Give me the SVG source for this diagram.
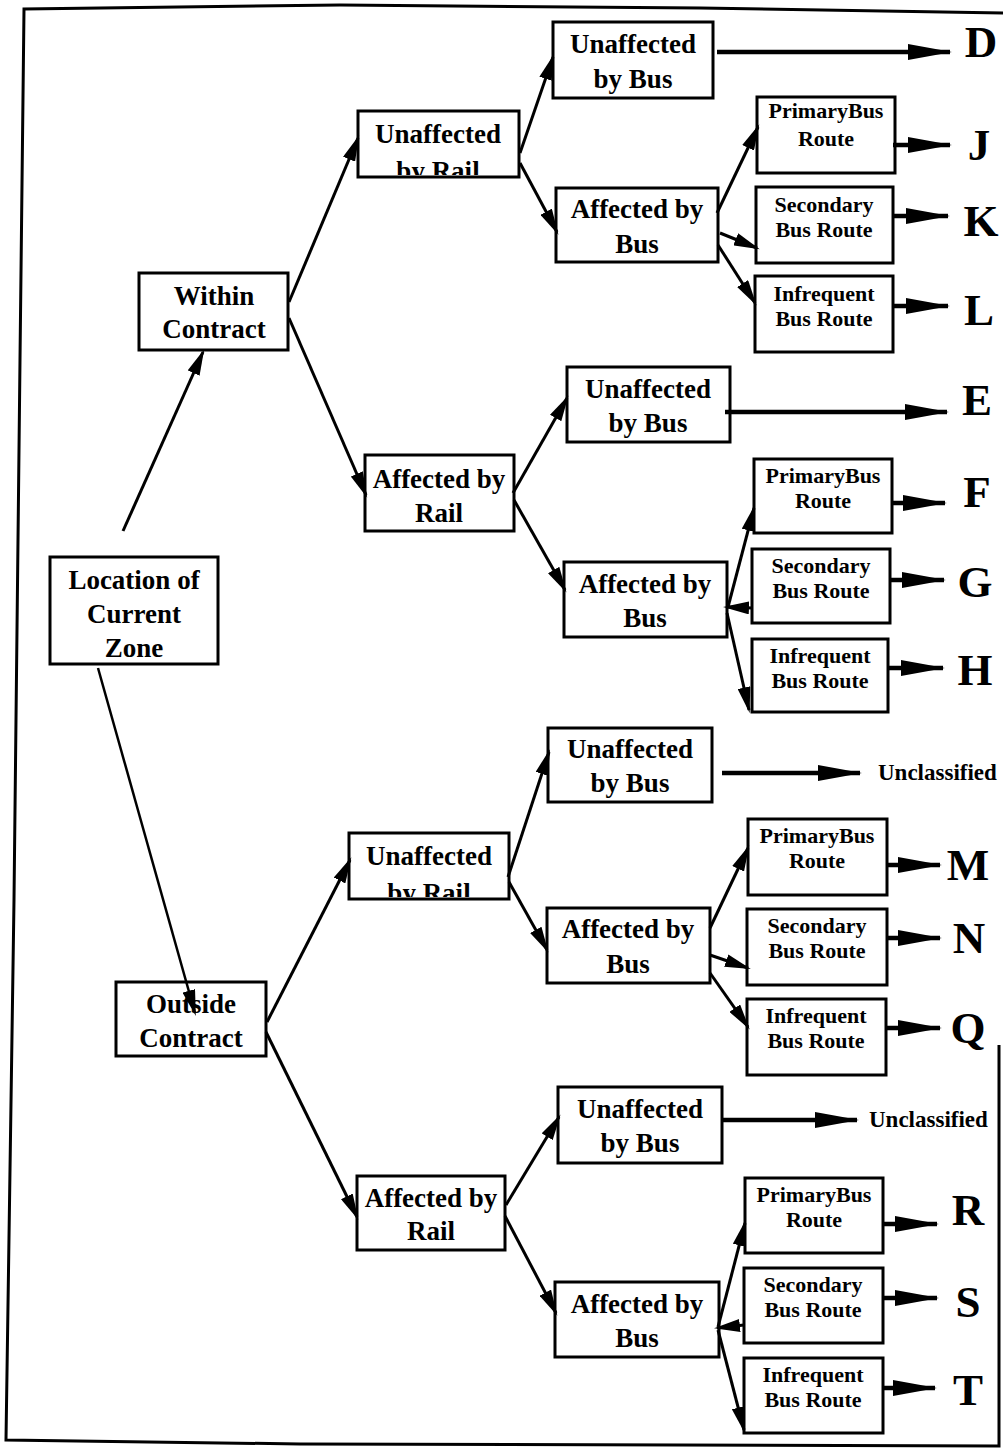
<svg xmlns="http://www.w3.org/2000/svg" width="1003" height="1449" viewBox="0 0 1003 1449">
  <style>
    .box { fill: none; stroke: #000; stroke-width: 3; }
    .t { font-family: "Liberation Serif", "Times New Roman", serif; font-weight: bold; fill: #000; text-anchor: middle; }
    .big { font-size: 27px; }
    .rt { font-size: 22px; }
    .res { font-size: 45px; }
    .unc { font-size: 23px; text-anchor: start; }
    .c { stroke: #000; stroke-width: 3; fill: none; marker-end: url(#tip); }
    .o { stroke: #000; stroke-width: 4.5; fill: none; marker-end: url(#head); }
    .frame { stroke: #000; stroke-width: 3; fill: none; }
  </style>
  <defs>
    <marker id="tip" viewBox="0 0 26 13" refX="23" refY="6.5" markerWidth="26" markerHeight="13" markerUnits="userSpaceOnUse" orient="auto">
      <path d="M0,0 L26,6.5 L0,13 z" fill="#000"/>
    </marker>
    <marker id="head" viewBox="0 0 44 16" refX="42" refY="8" markerWidth="44" markerHeight="16" markerUnits="userSpaceOnUse" orient="auto">
      <path d="M0,0 L44,8 L0,16 z" fill="#000"/>
    </marker>
    <clipPath id="clipUR1"><rect x="358" y="111" width="161" height="64"/></clipPath>
    <clipPath id="clipUR2"><rect x="349" y="833" width="160" height="64"/></clipPath>
  </defs>

  <rect x="0" y="0" width="1003" height="1449" fill="#fff"/>

  <!-- page frame -->
  <polyline class="frame" points="1003,13 700,8 340,5 24,9 20,360 14,900 6,1440 300,1444 999,1446 999,1045"/>

  <!-- connectors -->
  <g id="connectors">
    <line class="c" x1="123" y1="531" x2="203" y2="352"/>
    <line class="c" x1="98" y1="668" x2="195" y2="1013" style="stroke-width:2.5"/>
    <line class="c" x1="289" y1="302" x2="358" y2="138"/>
    <line class="c" x1="289" y1="318" x2="366" y2="495"/>
    <line class="c" x1="520" y1="153" x2="553" y2="57"/>
    <line class="c" x1="520" y1="163" x2="557" y2="232"/>
    <line class="c" x1="717" y1="213" x2="758" y2="127"/>
    <line class="c" x1="720" y1="233" x2="757" y2="248"/>
    <line class="c" x1="718" y1="245" x2="755" y2="303"/>
    <line class="c" x1="513" y1="493" x2="567" y2="398"/>
    <line class="c" x1="514" y1="500" x2="565" y2="590"/>
    <line class="c" x1="728" y1="607" x2="754" y2="508"/>
    <line class="c" x1="752" y1="608" x2="726" y2="607"/>
    <line class="c" x1="727" y1="613" x2="749" y2="710"/>
    <line class="c" x1="267" y1="1022" x2="350" y2="860"/>
    <line class="c" x1="266" y1="1032" x2="357" y2="1217"/>
    <line class="c" x1="508" y1="877" x2="549" y2="752"/>
    <line class="c" x1="509" y1="882" x2="547" y2="950"/>
    <line class="c" x1="710" y1="928" x2="748" y2="848"/>
    <line class="c" x1="710" y1="955" x2="748" y2="968"/>
    <line class="c" x1="710" y1="973" x2="748" y2="1027"/>
    <line class="c" x1="506" y1="1205" x2="559" y2="1117"/>
    <line class="c" x1="505" y1="1216" x2="556" y2="1313"/>
    <line class="c" x1="718" y1="1327" x2="745" y2="1223"/>
    <line class="c" x1="744" y1="1325" x2="717" y2="1328"/>
    <line class="c" x1="718" y1="1330" x2="744" y2="1430"/>

    <!-- outcome arrows -->
    <line class="o" x1="717" y1="52" x2="950" y2="52"/>
    <line class="o" x1="893" y1="145" x2="950" y2="145"/>
    <line class="o" x1="893" y1="216" x2="948" y2="216"/>
    <line class="o" x1="893" y1="306" x2="948" y2="306"/>
    <line class="o" x1="725" y1="412" x2="947" y2="412"/>
    <line class="o" x1="892" y1="503" x2="945" y2="503"/>
    <line class="o" x1="890" y1="580" x2="944" y2="580"/>
    <line class="o" x1="888" y1="668" x2="943" y2="668"/>
    <line class="o" x1="722" y1="773" x2="860" y2="773"/>
    <line class="o" x1="887" y1="865" x2="940" y2="865"/>
    <line class="o" x1="887" y1="938" x2="940" y2="938"/>
    <line class="o" x1="886" y1="1028" x2="940" y2="1028"/>
    <line class="o" x1="722" y1="1120" x2="857" y2="1120"/>
    <line class="o" x1="883" y1="1224" x2="937" y2="1224"/>
    <line class="o" x1="883" y1="1298" x2="937" y2="1298"/>
    <line class="o" x1="883" y1="1388" x2="935" y2="1388"/>
  </g>

  <!-- root -->
  <g id="n-location">
    <rect class="box" x="50" y="557" width="168" height="107"/>
    <text class="t big" x="134" y="589">Location of</text>
    <text class="t big" x="134" y="623">Current</text>
    <text class="t big" x="134" y="657">Zone</text>
  </g>

  <!-- contract level -->
  <g id="n-within">
    <rect class="box" x="139" y="273" width="149" height="77"/>
    <text class="t big" x="214" y="305">Within</text>
    <text class="t big" x="214" y="338">Contract</text>
  </g>
  <g id="n-outside">
    <rect class="box" x="116" y="982" width="150" height="74"/>
    <text class="t big" x="191" y="1013">Outside</text>
    <text class="t big" x="191" y="1047">Contract</text>
  </g>

  <!-- rail level -->
  <g id="n-unaffected-rail-1">
    <rect class="box" x="358" y="111" width="161" height="66"/>
    <text class="t big" x="438" y="143">Unaffected</text>
    <text class="t big" x="438" y="180" clip-path="url(#clipUR1)">by Rail</text>
  </g>
  <g id="n-affected-rail-1">
    <rect class="box" x="365" y="455" width="149" height="76"/>
    <text class="t big" x="439" y="488">Affected by</text>
    <text class="t big" x="439" y="522">Rail</text>
  </g>
  <g id="n-unaffected-rail-2">
    <rect class="box" x="349" y="833" width="160" height="66"/>
    <text class="t big" x="429" y="865">Unaffected</text>
    <text class="t big" x="429" y="902" clip-path="url(#clipUR2)">by Rail</text>
  </g>
  <g id="n-affected-rail-2">
    <rect class="box" x="357" y="1176" width="148" height="74"/>
    <text class="t big" x="431" y="1207">Affected by</text>
    <text class="t big" x="431" y="1240">Rail</text>
  </g>

  <!-- bus level -->
  <g id="n-unaffected-bus-1">
    <rect class="box" x="553" y="22" width="160" height="76"/>
    <text class="t big" x="633" y="53">Unaffected</text>
    <text class="t big" x="633" y="88">by Bus</text>
  </g>
  <g id="n-affected-bus-1">
    <rect class="box" x="556" y="188" width="162" height="74"/>
    <text class="t big" x="637" y="218">Affected by</text>
    <text class="t big" x="637" y="253">Bus</text>
  </g>
  <g id="n-unaffected-bus-2">
    <rect class="box" x="567" y="367" width="163" height="75"/>
    <text class="t big" x="648" y="398">Unaffected</text>
    <text class="t big" x="648" y="432">by Bus</text>
  </g>
  <g id="n-affected-bus-2">
    <rect class="box" x="564" y="562" width="163" height="75"/>
    <text class="t big" x="645" y="593">Affected by</text>
    <text class="t big" x="645" y="627">Bus</text>
  </g>
  <g id="n-unaffected-bus-3">
    <rect class="box" x="548" y="728" width="164" height="74"/>
    <text class="t big" x="630" y="758">Unaffected</text>
    <text class="t big" x="630" y="792">by Bus</text>
  </g>
  <g id="n-affected-bus-3">
    <rect class="box" x="547" y="908" width="163" height="75"/>
    <text class="t big" x="628" y="938">Affected by</text>
    <text class="t big" x="628" y="973">Bus</text>
  </g>
  <g id="n-unaffected-bus-4">
    <rect class="box" x="558" y="1087" width="164" height="76"/>
    <text class="t big" x="640" y="1118">Unaffected</text>
    <text class="t big" x="640" y="1152">by Bus</text>
  </g>
  <g id="n-affected-bus-4">
    <rect class="box" x="555" y="1282" width="164" height="75"/>
    <text class="t big" x="637" y="1313">Affected by</text>
    <text class="t big" x="637" y="1347">Bus</text>
  </g>

  <!-- route level -->
  <g id="n-primary-1">
    <rect class="box" x="757" y="97" width="138" height="76"/>
    <text class="t rt" x="826" y="118">PrimaryBus</text>
    <text class="t rt" x="826" y="146">Route</text>
  </g>
  <g id="n-secondary-1">
    <rect class="box" x="756" y="187" width="137" height="76"/>
    <text class="t rt" x="824" y="212">Secondary</text>
    <text class="t rt" x="824" y="237">Bus Route</text>
  </g>
  <g id="n-infrequent-1">
    <rect class="box" x="755" y="276" width="138" height="76"/>
    <text class="t rt" x="824" y="301">Infrequent</text>
    <text class="t rt" x="824" y="326">Bus Route</text>
  </g>
  <g id="n-primary-2">
    <rect class="box" x="754" y="459" width="138" height="74"/>
    <text class="t rt" x="823" y="483">PrimaryBus</text>
    <text class="t rt" x="823" y="508">Route</text>
  </g>
  <g id="n-secondary-2">
    <rect class="box" x="752" y="549" width="138" height="74"/>
    <text class="t rt" x="821" y="573">Secondary</text>
    <text class="t rt" x="821" y="598">Bus Route</text>
  </g>
  <g id="n-infrequent-2">
    <rect class="box" x="752" y="639" width="136" height="73"/>
    <text class="t rt" x="820" y="663">Infrequent</text>
    <text class="t rt" x="820" y="688">Bus Route</text>
  </g>
  <g id="n-primary-3">
    <rect class="box" x="748" y="819" width="139" height="76"/>
    <text class="t rt" x="817" y="843">PrimaryBus</text>
    <text class="t rt" x="817" y="868">Route</text>
  </g>
  <g id="n-secondary-3">
    <rect class="box" x="747" y="909" width="140" height="76"/>
    <text class="t rt" x="817" y="933">Secondary</text>
    <text class="t rt" x="817" y="958">Bus Route</text>
  </g>
  <g id="n-infrequent-3">
    <rect class="box" x="747" y="999" width="139" height="76"/>
    <text class="t rt" x="816" y="1023">Infrequent</text>
    <text class="t rt" x="816" y="1048">Bus Route</text>
  </g>
  <g id="n-primary-4">
    <rect class="box" x="745" y="1178" width="138" height="75"/>
    <text class="t rt" x="814" y="1202">PrimaryBus</text>
    <text class="t rt" x="814" y="1227">Route</text>
  </g>
  <g id="n-secondary-4">
    <rect class="box" x="744" y="1268" width="139" height="75"/>
    <text class="t rt" x="813" y="1292">Secondary</text>
    <text class="t rt" x="813" y="1317">Bus Route</text>
  </g>
  <g id="n-infrequent-4">
    <rect class="box" x="744" y="1358" width="139" height="75"/>
    <text class="t rt" x="813" y="1382">Infrequent</text>
    <text class="t rt" x="813" y="1407">Bus Route</text>
  </g>

  <!-- outcome classes -->
  <g id="outcomes">
    <text class="t res" x="981" y="57">D</text>
    <text class="t res" x="979" y="160">J</text>
    <text class="t res" x="981" y="236">K</text>
    <text class="t res" x="979" y="325">L</text>
    <text class="t res" x="977" y="415">E</text>
    <text class="t res" x="977" y="507">F</text>
    <text class="t res" x="975" y="597">G</text>
    <text class="t res" x="975" y="685">H</text>
    <text class="t unc" x="878" y="780">Unclassified</text>
    <text class="t res" x="968" y="880">M</text>
    <text class="t res" x="969" y="953">N</text>
    <text class="t res" x="968" y="1043">Q</text>
    <text class="t unc" x="869" y="1127">Unclassified</text>
    <text class="t res" x="968" y="1225">R</text>
    <text class="t res" x="968" y="1317">S</text>
    <text class="t res" x="968" y="1405">T</text>
  </g>
</svg>
